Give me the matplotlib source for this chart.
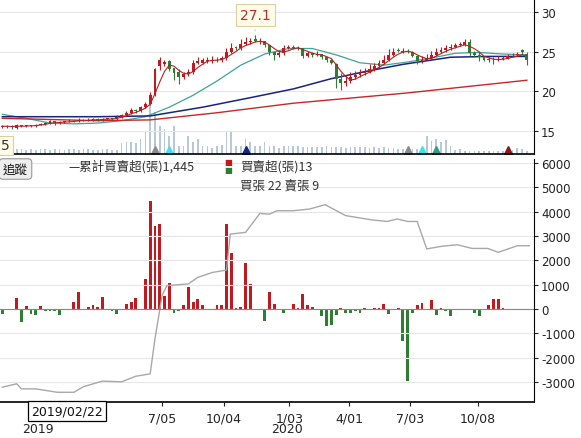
import matplotlib
matplotlib.use("Agg")
import matplotlib.pyplot as plt
import numpy as np
import pandas as pd

plt.rcParams['font.family'] = ['DejaVu Sans', 'Noto Sans CJK TC']
plt.rcParams['axes.unicode_minus'] = False

# weekly candles (week index 0..110)
closes = [15.6, 15.6, 15.5, 15.7, 15.6, 15.7, 15.6, 15.8, 15.9, 16.0,
          16.2, 16.0, 16.1, 16.2, 16.3, 16.2, 16.4, 16.3, 16.4, 16.5,
          16.4, 16.5, 16.6, 16.5, 16.8, 17.0, 17.3, 17.6, 17.5, 18.0,
          18.4, 19.6, 22.8, 23.9, 23.7, 22.8, 22.3, 21.8, 22.2, 22.4,
          23.6, 23.8, 23.9, 23.9, 24.0, 23.9, 24.2, 25.0, 25.5, 25.4,
          26.0, 26.2, 26.3, 26.4, 26.3, 25.8, 24.9, 24.6, 24.8, 25.5,
          25.6, 25.5, 25.4, 24.5, 24.8, 24.6, 24.7, 24.3, 23.9, 23.6,
          21.6, 21.0, 21.3, 21.8, 22.0, 22.3, 22.5, 22.8, 23.2, 23.6,
          24.0, 24.6, 25.0, 25.1, 25.1, 25.0, 24.5, 23.8, 24.0, 24.2,
          24.6, 25.0, 25.2, 25.4, 25.6, 25.8, 25.9, 26.2, 24.8, 24.6,
          24.3, 24.0, 24.0, 23.9, 24.1, 24.2, 24.4, 24.5, 24.6, 24.9, 24.0]
opens = [15.5, 15.6, 15.6, 15.4, 15.7, 15.6, 15.7, 15.6, 15.8, 15.9,
         16.0, 16.2, 16.0, 16.1, 16.2, 16.3, 16.2, 16.4, 16.3, 16.4,
         16.5, 16.4, 16.5, 16.6, 16.5, 16.8, 17.0, 17.3, 17.6, 17.5,
         18.0, 18.4, 19.6, 23.2, 23.5, 23.8, 22.9, 22.5, 21.8, 22.2,
         22.4, 23.6, 23.6, 23.8, 23.8, 24.0, 23.9, 24.2, 25.0, 25.6,
         25.4, 26.0, 26.2, 26.6, 26.2, 26.3, 25.8, 24.9, 24.6, 24.8,
         25.5, 25.6, 25.5, 25.4, 24.5, 24.8, 24.6, 24.7, 24.3, 24.0,
         23.5, 21.6, 21.0, 21.3, 21.8, 22.0, 22.3, 22.5, 22.8, 23.2,
         23.6, 24.0, 24.6, 25.2, 25.0, 25.1, 25.0, 24.5, 23.8, 24.0,
         24.2, 24.6, 25.0, 25.2, 25.4, 25.6, 25.9, 25.9, 26.2, 24.8,
         24.6, 24.3, 24.0, 24.0, 23.9, 24.1, 24.2, 24.4, 24.6, 25.2, 24.7]
highs = [15.8, 15.8, 15.7, 15.9, 15.8, 15.8, 15.8, 15.9, 16.0, 16.1,
         16.4, 16.3, 16.3, 16.3, 16.5, 16.4, 16.6, 16.5, 16.6, 16.6,
         16.6, 16.7, 16.7, 16.7, 17.0, 17.2, 17.5, 17.9, 17.8, 18.2,
         18.7, 19.9, 23.0, 24.3, 24.0, 23.9, 23.0, 22.8, 22.5, 22.8,
         23.9, 24.3, 24.2, 24.3, 24.4, 24.3, 24.5, 25.5, 26.1, 25.7,
         26.6, 26.9, 26.7, 27.1, 26.7, 26.4, 25.9, 25.0, 25.2, 25.8,
         25.9, 25.8, 25.7, 25.5, 25.1, 24.9, 25.1, 24.6, 24.3, 24.1,
         23.6, 22.3, 22.0, 22.4, 22.6, 22.8, 23.0, 23.4, 23.6, 24.0,
         24.6, 25.3, 25.4, 25.5, 25.4, 25.3, 25.1, 24.6, 24.4, 24.7,
         25.1, 25.5, 25.6, 25.8, 26.0, 26.1, 26.2, 26.6, 26.6, 25.1,
         24.9, 24.5, 24.3, 24.3, 24.4, 24.5, 24.7, 24.8, 24.9, 25.3, 24.9]
lows = [15.4, 15.4, 15.3, 15.3, 15.5, 15.5, 15.5, 15.5, 15.7, 15.8,
        15.9, 15.8, 15.9, 16.0, 16.1, 16.1, 16.1, 16.2, 16.2, 16.3,
        16.3, 16.3, 16.4, 16.4, 16.4, 16.7, 16.9, 17.2, 17.3, 17.4,
        17.9, 18.3, 19.4, 22.7, 23.2, 22.6, 21.4, 20.9, 21.6, 21.9,
        22.2, 23.4, 23.4, 23.6, 23.6, 23.7, 23.7, 24.0, 24.8, 25.2,
        25.2, 25.8, 26.0, 26.2, 26.0, 25.6, 24.6, 24.0, 24.3, 24.6,
        25.3, 25.3, 25.2, 24.2, 24.3, 24.3, 24.4, 24.1, 23.7, 23.4,
        20.4, 20.2, 20.7, 21.0, 21.6, 21.8, 22.1, 22.3, 22.6, 23.0,
        23.4, 23.8, 24.4, 24.9, 24.8, 24.8, 24.3, 23.4, 23.6, 23.9,
        24.0, 24.4, 24.8, 25.0, 25.2, 25.4, 25.7, 25.7, 24.4, 24.3,
        23.8, 23.8, 23.7, 23.5, 23.8, 24.0, 24.1, 24.3, 24.4, 24.6, 23.3]

# moving averages (week, price)
ma13_w = [0, 5, 10, 15, 20, 25, 30, 35, 40, 45, 50, 55, 60, 65, 70, 75, 80, 85, 90, 95, 100, 105, 110]
ma13_v = [17.1, 16.6, 16.0, 15.9, 16.0, 16.3, 16.8, 18.0, 19.5, 21.3, 23.3, 24.7, 25.4, 25.4, 24.6, 23.6, 23.3, 23.7, 24.2, 24.8, 24.9, 24.7, 24.6]
ma26_w = [0, 20, 31, 42, 52, 61, 69, 77, 84, 94, 102, 110]
ma26_v = [16.8, 16.8, 16.9, 18.0, 19.2, 20.3, 21.6, 22.6, 23.4, 24.3, 24.4, 24.4]
ma52_w = [0, 20, 31, 45, 61, 85, 110]
ma52_v = [16.6, 16.3, 16.4, 17.3, 18.5, 19.8, 21.4]

volume = [5, 5, 4, 5, 5, 4, 5, 4, 5, 5,
          4, 5, 5, 4, 5, 5, 4, 5, 5, 4,
          4, 5, 5, 4, 4, 11, 12, 12, 11, 15,
          23, 55, 42, 28, 25, 18, 28, 8, 8, 18,
          12, 15, 8, 8, 6, 8, 9, 23, 23, 8,
          8, 15, 12, 8, 8, 12, 8, 8, 6, 8,
          8, 8, 8, 7, 7, 7, 7, 7, 8, 7,
          7, 7, 6, 7, 7, 7, 7, 6, 7, 6,
          7, 6, 6, 5, 5, 4, 5, 5, 6, 18,
          13, 15, 12, 14, 8, 4, 5, 3, 3, 3,
          3, 3, 3, 3, 3, 3, 3, 4, 6, 5, 3]
signal_weeks = [32, 35, 51, 85, 88, 91, 106]
signal_colors = ['#8a8a8a', '#40e0f0', '#1a237e', '#8a8a8a', '#40e0f0', '#2a9d8f', '#8b1a1a']

net_buy = [-200, 0, 0, 440, -550, 140, -200, -250, 120, -100,
           -100, -100, -250, -30, 0, 280, 700, -30, 80, 160,
           80, 500, 0, -80, -200, 0, 200, 280, 470, 0,
           1230, 4450, 3430, 3500, 530, 1050, -170, -80, 150, 900,
           300, 420, 180, -30, -30, 150, 150, 3500, 2300, 30,
           100, 1900, 1030, 0, 0, -480, 700, 200, -30, -150,
           0, 200, 50, 600, 150, 100, 0, -280, -700, -650,
           -250, 30, -180, -180, -80, -180, 20, -20, 20, 20,
           200, -220, 0, 30, -1300, -2950, -150, 150, 250, 0,
           380, -250, 30, -100, -300, 0, 0, 0, -50, -150,
           -300, 0, 170, 410, 410, 20, -20, -20, -20, -20, -20]
cum_w = [0, 3, 4, 7, 11.5, 15, 17, 21, 25, 28, 31, 32, 33.5, 34.5, 39, 41, 44, 47, 47.8, 51, 54,
         56, 57.6, 61, 64.4, 67.7, 72, 77.6, 80.7, 82.8, 85, 87, 89, 92.2, 95.4, 98.5, 101.8, 104, 108, 110.5]
cum_v = [-3220, -3080, -3290, -3290, -3430, -3430, -3200, -2970, -3000, -2770, -2670, -1230, 550, 960, 1030,
         1300, 1500, 1600, 3080, 3150, 3930, 3900, 4040, 4040, 4110, 4290, 3840, 3660, 3600, 3700,
         3600, 3600, 2470, 2580, 2640, 2490, 2490, 2330, 2600, 2600]

tick_weeks = [33.5, 46.5, 60.2, 72.7, 85.5, 99.8]
tick_labels = ['7/05', '10/04', '1/03', '4/01', '7/03', '10/08']

RED = '#c0191f'
GREEN = '#2e7d32'
CJK = ['Noto Sans CJK TC', 'DejaVu Sans']

fig = plt.figure(figsize=(5.81, 4.39), dpi=100)
ax = fig.add_axes([0, 1 - 155 / 439, 534 / 581, 155 / 439])
axv = ax.twinx()
ax2 = fig.add_axes([0, 1 - 403 / 439, 534 / 581, 243 / 439])

w = np.arange(len(closes))
o = np.array(opens)
c = np.array(closes)
up = c >= o
cols = np.where(up, RED, GREEN)

# volume in the lower part of the price panel
axv.bar(w, volume, width=0.35, color='#b8c8dc', zorder=1)
for sw, sc in zip(signal_weeks, signal_colors):
    axv.plot(sw, 4, marker='^', color=sc, markersize=6, zorder=3)
axv.set_ylim(0, 155)
axv.set_yticks([])
for s in axv.spines.values():
    s.set_visible(False)

ax.set_zorder(axv.get_zorder() + 1)
ax.patch.set_visible(False)
ax.vlines(w, lows, highs, colors=cols, linewidth=0.8, zorder=3)
ax.bar(w, np.maximum(np.abs(c - o), 0.08), bottom=np.minimum(o, c), width=0.6, color=cols, zorder=4)
ma5 = pd.Series(closes).rolling(4, min_periods=1).mean()
ax.plot(w, ma5, color='#b22222', linewidth=0.8, zorder=5)
ax.plot(ma13_w, ma13_v, color='#3fa39a', linewidth=0.9, zorder=2)
ax.plot(ma26_w, ma26_v, color='#1a237e', linewidth=1.1, zorder=2)
ax.plot(ma52_w, ma52_v, color='#c62828', linewidth=1.0, zorder=2)
ax.set_ylim(12.1, 31.64)
ax.set_xlim(-0.5, 111.5)
ax.yaxis.tick_right()
ax.set_yticks([15, 20, 25, 30])
ax.tick_params(axis='y', labelsize=8.5, colors='#222222', length=3, pad=2)
ax.set_xticks([])
ax.grid(axis='y', color='#e6e6e6', linewidth=0.8)
ax.spines['top'].set_visible(False)
ax.spines['left'].set_visible(False)
ax.spines['bottom'].set_linewidth(1.2)

ax.annotate('27.1', xy=(53, 27.25), xytext=(53, 29.6), ha='center', va='center', fontsize=10,
            color='#b03030', zorder=6,
            bbox=dict(boxstyle='square,pad=0.3', fc='#fffbe6', ec='#d8d0a0', lw=0.8),
            arrowprops=dict(arrowstyle='-', color='#d8d0a0', lw=0.8))
ax.text(0.002, 0.03, '5', transform=ax.transAxes, fontsize=10, color='#333333',
        bbox=dict(boxstyle='square,pad=0.2', fc='#fffbe6', ec='#d8d0a0', lw=0.8))

# net buy panel
nb = np.array(net_buy)
ax2.bar(np.arange(len(nb)), nb, width=0.6, color=np.where(nb >= 0, RED, GREEN))
ax2.plot(cum_w, cum_v, color='#a8a8a8', linewidth=1.0)
ax2.axhline(0, color='#888888', linewidth=0.8)
ax2.set_ylim(-3830, 6170)
ax2.set_xlim(-0.5, 111.5)
ax2.yaxis.tick_right()
ax2.set_yticks(range(-3000, 7000, 1000))
ax2.tick_params(axis='y', labelsize=8.5, colors='#222222', length=3, pad=2)
ax2.grid(axis='y', color='#e6e6e6', linewidth=0.8)
ax2.set_xticks(tick_weeks)
ax2.set_xticklabels(tick_labels)
ax2.tick_params(axis='x', labelsize=9, colors='#222222', length=3)
ax2.spines['top'].set_visible(False)
ax2.spines['left'].set_visible(False)
ax2.spines['bottom'].set_linewidth(1.2)

fig.text(38 / 581, 1 - 430 / 439, '2019', fontsize=9, ha='center', va='center', color='#222222')
fig.text(287 / 581, 1 - 430 / 439, '2020', fontsize=9, ha='center', va='center', color='#222222')
fig.text(67 / 581, 1 - 412 / 439, '2019/02/22', fontsize=9, ha='center', va='center', color='#111111',
         bbox=dict(boxstyle='square,pad=0.25', fc='white', ec='black', lw=0.9))

# legend row
fig.text(3 / 581, 1 - 170 / 439, '追蹤', fontsize=9, va='center', color='#111111', family=CJK,
         bbox=dict(boxstyle='round,pad=0.3', fc='#eeeeee', ec='#999999', lw=0.8))
fig.text(68 / 581, 1 - 167 / 439, '—累計買賣超(張)1,445', fontsize=9, va='center', color='#333333', family=CJK)
fig.text(224 / 581, 1 - 163 / 439, '■', fontsize=6, va='center', color=RED)
fig.text(224 / 581, 1 - 171 / 439, '■', fontsize=6, va='center', color=GREEN)
fig.text(240 / 581, 1 - 167 / 439, '買賣超(張)13', fontsize=9, va='center', color='#333333', family=CJK)
fig.text(240 / 581, 1 - 186 / 439, '買張 22 賣張 9', fontsize=9, va='center', color='#333333', family=CJK)

fig.savefig('out.png', dpi=100)
